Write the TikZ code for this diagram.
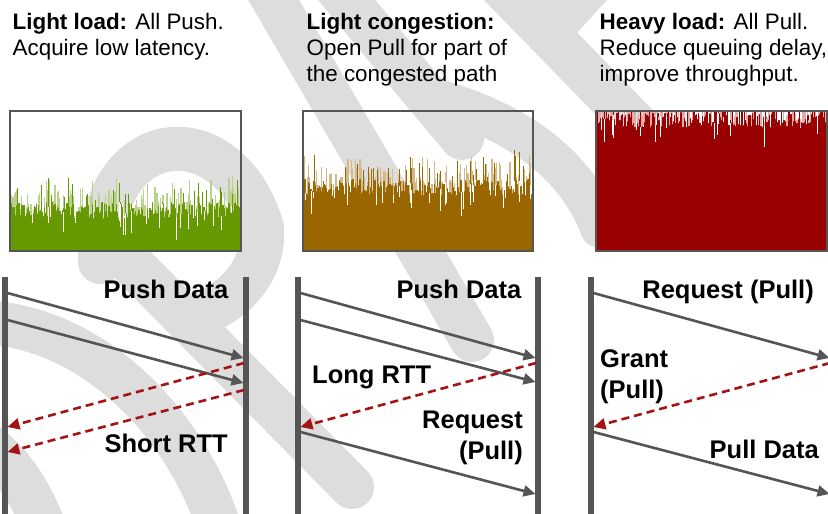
\documentclass[tikz,border=0pt]{standalone}
\usepackage{fontspec}
\setmainfont{Liberation Sans}
\usetikzlibrary{arrows.meta}
\definecolor{linegray}{RGB}{85,85,85}
\definecolor{pullred}{RGB}{165,20,20}
\definecolor{wmgray}{RGB}{221,221,221}
\definecolor{loadgreen}{RGB}{102,153,0}
\definecolor{loadgreenl}{RGB}{186,209,140}
\definecolor{loadbrown}{RGB}{153,102,0}
\definecolor{loadbrownl}{RGB}{210,185,135}
\definecolor{loadred}{RGB}{153,0,0}
\definecolor{loadredl}{RGB}{228,170,170}
\tikzset{
  lifeline/.style={line width=5.5pt,linegray},
  push/.style={line width=2.6pt,linegray,-{Triangle[length=12pt,width=11pt]}},
  back/.style={line width=2.6pt,pullred,dash pattern=on 8pt off 5pt,-{Triangle[length=12pt,width=11pt]}},
  title/.style={font=\fontsize{22.4}{26}\selectfont,anchor=base west,inner sep=0pt},
  msg/.style={font=\fontsize{25.5}{30}\selectfont\bfseries,inner sep=0pt},
  wm/.style={wmgray,line width=44pt,line cap=round},
}
\begin{document}
\begin{tikzpicture}[x=1pt,y=-1pt]
\useasboundingbox (0,0) rectangle (828,514);
\clip (0,0) rectangle (828,514);
% watermark
\draw[wm] (262,-20) -- (472,340);
\draw[wm] (330,-20) -- (462,138);
\draw[wm] (100,262) .. controls (100,120) and (230,115) .. (262,228) .. controls (265,270) and (235,300) .. (205,312);
\draw[wm] (108,240) -- (352,487);
\draw[wm] (-20,322) .. controls (90,325) and (185,420) .. (220,530);
\draw[wm] (-20,440) .. controls (10,460) and (30,490) .. (45,530);
\draw[wm] (500,-15) -- (700,190);
\draw[wm] (548,32) -- (600,-25);
\draw[wm,line width=40pt] (440,100) .. controls (510,120) and (575,160) .. (600,228);
% titles
\node[title] (t1a) at (12.5,29) {\textbf{Light load:} All Push.};
\node[title] (t1b) at (12.5,55) {Acquire low latency.};
\node[title] (t2a) at (306.5,29) {\textbf{Light congestion:}};
\node[title] (t2b) at (306.5,55) {Open Pull for part of};
\node[title] (t2c) at (306.5,81) {the congested path};
\node[title] (t3a) at (599.5,29) {\textbf{Heavy load:} All Pull.};
\node[title] (t3b) at (599.5,55) {Reduce queuing delay,};
\node[title] (t3c) at (599.5,81) {improve throughput.};
% load charts
\pgfmathsetseed{11}
\foreach \cx/\cb/\cmain/\clight in {10/210/loadgreen/loadgreenl,303/187/loadbrown/loadbrownl,596/119/loadred/loadredl}{
  \begin{scope}
    \clip (\cx,112) rectangle ++(230,139);
    \foreach \i in {0,...,191}{
      \pgfmathsetmacro{\bx}{\cx+1.2*\i}
      \pgfmathsetmacro{\hh}{\cb+16*(rnd-0.5)}
      \pgfmathsetmacro{\sa}{max(0,45*rnd-18)}
      \pgfmathsetmacro{\sb}{max(0,150*rnd-118)}
      \pgfmathsetmacro{\sg}{max(0,150*rnd-126)}
      \fill[\cmain] (\bx,252) rectangle ({\bx+1.3},\hh);
      \fill[\clight] (\bx,\hh) rectangle ({\bx+1.2},{\hh-\sa});
      \fill[\cmain] (\bx,\hh) rectangle ({\bx+0.8},{\hh-\sb});
      \fill[white] (\bx,\hh) rectangle ({\bx+0.8},{\hh+\sg});
    }
  \end{scope}
}
\draw[linegray,line width=2pt] (10,111) rectangle (241,251);
\draw[linegray,line width=2pt] (303,111) rectangle (533,251);
\draw[linegray,line width=2pt] (596,111) rectangle (827,251);
% lifelines
\foreach \x in {5,246,298,538,591,832} \draw[lifeline] (\x,277) -- (\x,520);
% light load
\coordinate (a1s) at (7.5,293); \coordinate (a1e) at (243.5,358);
\coordinate (a2s) at (7.5,320); \coordinate (a2e) at (243.5,383);
\coordinate (a3s) at (244,363); \coordinate (a3e) at (7.5,427);
\coordinate (a4s) at (244,390); \coordinate (a4e) at (7.5,452);
\draw[push] (a1s) -- (a1e);
\draw[push] (a2s) -- (a2e);
\draw[back] (a3s) -- (a3e);
\draw[back] (a4s) -- (a4e);
\node[msg,anchor=base east] (pd1) at (228.5,298) {Push Data};
\node[msg,anchor=base east] (srtt) at (228,452) {Short RTT};
% light congestion
\coordinate (b1s) at (300.5,293); \coordinate (b1e) at (535.5,358);
\coordinate (b2s) at (300.5,320); \coordinate (b2e) at (535.5,382);
\coordinate (b3s) at (536,363); \coordinate (b3e) at (300.5,427);
\coordinate (b4s) at (300.5,432); \coordinate (b4e) at (535.5,494);
\draw[push] (b1s) -- (b1e);
\draw[push] (b2s) -- (b2e);
\draw[back] (b3s) -- (b3e);
\draw[push] (b4s) -- (b4e);
\node[msg,anchor=base east] (pd2) at (521.5,298) {Push Data};
\node[msg,anchor=base west] (lrtt) at (312,383) {Long RTT};
\node[msg,anchor=base east] (rq2a) at (523,428) {Request};
\node[msg,anchor=base east] (rq2b) at (523,459) {(Pull)};
% heavy load
\coordinate (c1s) at (593.5,293); \coordinate (c1e) at (829.5,358);
\coordinate (c2s) at (830,363); \coordinate (c2e) at (593.5,427);
\coordinate (c3s) at (593.5,432); \coordinate (c3e) at (829.5,494);
\draw[push] (c1s) -- (c1e);
\draw[back] (c2s) -- (c2e);
\draw[push] (c3s) -- (c3e);
\node[msg,anchor=base east] (rq3) at (814,298) {Request (Pull)};
\node[msg,anchor=base west] (gr3a) at (600,367) {Grant};
\node[msg,anchor=base west] (gr3b) at (600,398) {(Pull)};
\node[msg,anchor=base east] (pl3) at (819,458) {Pull Data};
\end{tikzpicture}
\end{document}
